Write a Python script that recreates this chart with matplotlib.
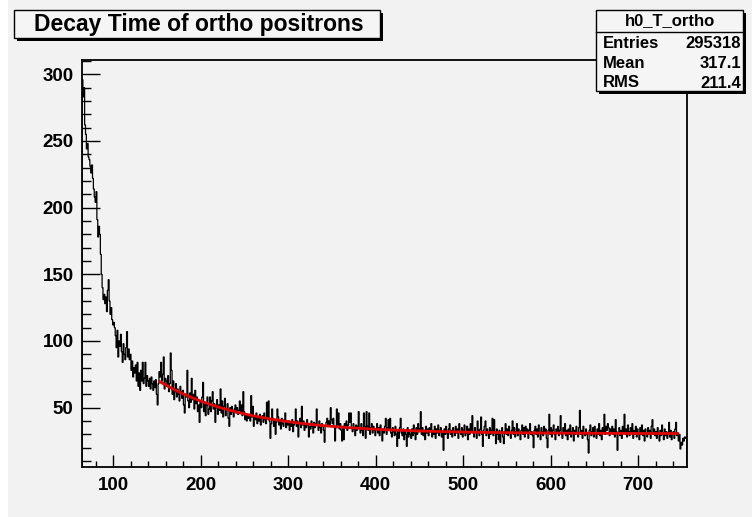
import numpy as np
import matplotlib
matplotlib.use("Agg")
import matplotlib.pyplot as plt
from matplotlib.patches import Rectangle
from matplotlib.lines import Line2D
from matplotlib.ticker import MultipleLocator, FixedLocator

# ---------------- data ----------------
bin_start = 64
bin_width = 1
counts = [
    296, 283, 290, 262, 255, 244,
    248, 238, 236, 231, 226, 232, 222, 214, 208, 204,
    212, 191, 178, 186, 180, 165, 150, 140, 131, 135,
    128, 133, 122, 138, 146, 130, 120, 125, 116, 112,
    114, 110, 104, 95, 108, 88, 100, 96, 105, 92,
    84, 98, 90, 86, 95, 107, 88, 94, 86, 90,
    78, 85, 73, 80, 76, 82, 70, 84, 66, 76,
    63, 78, 70, 84, 68, 72, 84, 66, 74, 70,
    66, 72, 64, 73, 68, 63, 70, 65, 71, 60,
    52, 68, 77, 73, 84, 70, 75, 88, 64, 72,
    70, 66, 74, 62, 68, 91, 78, 60, 70, 56,
    62, 68, 58, 64, 60, 55, 66, 62, 57, 63,
    52, 46, 60, 58, 78, 55, 50, 61, 54, 72,
    56, 60, 49, 63, 53, 58, 47, 52, 39, 55,
    50, 58, 69, 47, 54, 44, 52, 58, 45, 49,
    58, 47, 55, 62, 49, 53, 39, 50, 56, 45,
    52, 48, 64, 46, 55, 43, 51, 57, 44, 49,
    53, 42, 36, 50, 45, 51, 47, 43, 49, 52,
    46, 50, 45, 48, 55, 47, 52, 44, 62, 47,
    41, 44, 40, 45, 42, 44, 40, 59, 43, 51,
    36, 44, 41, 46, 38, 43, 40, 45, 37, 42,
    44, 39, 46, 41, 38, 54, 43, 55, 40, 27,
    38, 49, 42, 36, 41, 30, 39, 49, 43, 37,
    40, 34, 42, 38, 36, 41, 46, 35, 39, 37,
    40, 33, 38, 36, 41, 32, 37, 39, 49, 36,
    40, 28, 38, 42, 35, 51, 37, 40, 33, 38,
    35, 41, 37, 28, 36, 34, 40, 36, 31, 39,
    35, 38, 49, 37, 33, 40, 35, 31, 38, 36,
    33, 24, 36, 39, 42, 37, 40, 36, 50, 41,
    38, 42, 36, 25, 35, 49, 37, 46, 34, 38,
    33, 25, 36, 26, 38, 35, 40, 33, 37, 46,
    39, 46, 35, 32, 38, 34, 29, 37, 33, 36,
    47, 35, 31, 38, 33, 29, 46, 36, 27, 47,
    36, 33, 46, 30, 35, 38, 31, 36, 33, 29,
    34, 38, 31, 35, 29, 37, 33, 25, 34, 31,
    36, 42, 30, 35, 41, 33, 42, 31, 28, 35,
    32, 29, 36, 30, 21, 33, 27, 35, 42, 31,
    29, 34, 26, 32, 30, 21, 35, 28, 33, 30,
    27, 34, 29, 37, 31, 26, 35, 30, 38, 32,
    34, 47, 30, 35, 29, 33, 26, 36, 31, 34,
    29, 35, 32, 38, 28, 33, 30, 36, 27, 34,
    31, 37, 29, 33, 35, 28, 32, 18, 34, 30,
    36, 31, 27, 34, 38, 30, 33, 28, 35, 32,
    29, 36, 31, 34, 27, 38, 32, 30, 35, 28,
    33, 37, 29, 31, 36, 26, 34, 30, 38, 32,
    44, 31, 28, 35, 32, 27, 40, 33, 29, 34,
    43, 30, 21, 33, 36, 40, 29, 34, 31, 27,
    35, 30, 33, 42, 29, 41, 32, 23, 34, 30,
    26, 33, 24, 31, 35, 28, 23, 32, 38, 30,
    34, 29, 36, 31, 27, 33, 40, 30, 35, 28,
    32, 38, 29, 34, 31, 26, 33, 37, 30, 35,
    28, 36, 31, 34, 27, 33, 38, 30, 32, 29,
    20, 33, 36, 30, 34, 28, 37, 31, 26, 35,
    32, 29, 36, 31, 34, 27, 20, 33, 45, 30,
    35, 28, 33, 37, 30, 26, 34, 31, 36, 29,
    33, 44, 30, 27, 35, 31, 38, 29, 33, 26,
    34, 30, 37, 28, 32, 35, 25, 33, 30, 36,
    31, 28, 35, 48, 30, 33, 27, 36, 31, 29,
    34, 30, 26, 16, 33, 37, 29, 32, 35, 28,
    36, 31, 27, 34, 30, 38, 29, 33, 26, 35,
    31, 45, 30, 36, 33, 38, 35, 29, 34, 31,
    36, 30, 34, 28, 41, 32, 18, 31, 35, 29,
    33, 27, 36, 31, 45, 30, 34, 28, 37, 32,
    29, 35, 31, 38, 27, 33, 30, 36, 28, 34,
    31, 26, 35, 30, 37, 29, 33, 25, 34, 31,
    28, 35, 30, 33, 27, 36, 41, 30, 34, 29,
    32, 27, 35, 30, 25, 33, 29, 37, 31, 26,
    34, 29, 32, 27, 31, 39, 28, 33, 26, 30,
    32, 27, 34, 39, 29, 31, 25, 30, 19, 24,
    22, 27, 25, 28, 27, 28,
]

# exponential fit: A*exp(-x/tau) + C
fit_A = 180.0
fit_tau = 100.0
fit_C = 30.5
fit_range = (153, 745)

title = "Decay Time of ortho positrons"
stats_name = "h0_T_ortho"
stats_labels = ["Entries", "Mean", "RMS"]
stats_values = ["295318", "317.1", "211.4"]
x_ticks = [100, 200, 300, 400, 500, 600, 700]
y_ticks = [50, 100, 150, 200, 250, 300]
x_limits = (64, 756)
y_limits = (5.5, 310.7)

# ---------------- figure ----------------
W, H = 752, 517
BG = "#f2f2f2"
FONT = "Liberation Sans"
plt.rcParams["font.family"] = [FONT, "DejaVu Sans"]

fig = plt.figure(figsize=(W / 100, H / 100), dpi=100)
fig.patch.set_facecolor(BG)


def fx(px):
    return px / W


def fy(py):
    return 1 - py / H


# white strip at the very left (window border)
fig.add_artist(Rectangle((0, 0), fx(8), 1, transform=fig.transFigure,
                         facecolor="white", edgecolor="none", zorder=0))

ax = fig.add_axes([fx(82), fy(467), fx(687) - fx(82), fy(60) - fy(467)])
ax.set_facecolor(BG)

edges = bin_start + bin_width * np.arange(len(counts) + 1)
ax.stairs(counts, edges, color="black", linewidth=0.9)

xf = np.linspace(fit_range[0], fit_range[1], 400)
ax.plot(xf, fit_A * np.exp(-xf / fit_tau) + fit_C, color="#e00000", linewidth=2.0)

ax.set_xlim(*x_limits)
ax.set_ylim(*y_limits)

ax.xaxis.set_major_locator(FixedLocator(x_ticks))
ax.yaxis.set_major_locator(FixedLocator(y_ticks))
ax.xaxis.set_minor_locator(MultipleLocator(20))
ax.yaxis.set_minor_locator(MultipleLocator(10))

ax.tick_params(axis="x", which="major", direction="in", length=8.8, width=1.0,
               pad=7, labelsize=13.5)
ax.tick_params(axis="x", which="minor", direction="in", length=4.4, width=1.0)
ax.tick_params(axis="y", which="major", direction="in", length=13, width=1.0,
               pad=6, labelsize=13.5)
ax.tick_params(axis="y", which="minor", direction="in", length=6.5, width=1.0)
for lab in ax.get_xticklabels() + ax.get_yticklabels():
    lab.set_fontweight("bold")
for sp in ax.spines.values():
    sp.set_linewidth(1.3)
    sp.set_color("black")

# ---------------- title box ----------------
tb = (14, 10, 380, 38)  # left, top, right, bottom in px
fig.add_artist(Rectangle((fx(tb[0] + 3), fy(tb[3] + 3)), fx(tb[2] - tb[0]), fy(tb[1]) - fy(tb[3]),
                         transform=fig.transFigure, facecolor="black", edgecolor="none", zorder=5))
fig.add_artist(Rectangle((fx(tb[0]), fy(tb[3])), fx(tb[2] - tb[0]), fy(tb[1]) - fy(tb[3]),
                         transform=fig.transFigure, facecolor="#f5f5f5", edgecolor="black",
                         linewidth=1.0, zorder=6))
fig.text(fx((tb[0] + tb[2]) / 2 + 2), fy((tb[1] + tb[3]) / 2 + 0.5), title,
         ha="center", va="center", fontsize=16.5, fontweight="bold", zorder=7)

# ---------------- stats box ----------------
sb = (596, 10, 743, 91)
fig.add_artist(Rectangle((fx(sb[0] + 3), fy(sb[3] + 3)), fx(sb[2] - sb[0]), fy(sb[1]) - fy(sb[3]),
                         transform=fig.transFigure, facecolor="black", edgecolor="none", zorder=5))
fig.add_artist(Rectangle((fx(sb[0]), fy(sb[3])), fx(sb[2] - sb[0]), fy(sb[1]) - fy(sb[3]),
                         transform=fig.transFigure, facecolor="#f5f5f5", edgecolor="black",
                         linewidth=1.0, zorder=6))
fig.add_artist(Line2D([fx(sb[0]), fx(sb[2])], [fy(31.5), fy(31.5)], transform=fig.transFigure,
                      color="black", linewidth=1.0, zorder=7))
fig.text(fx((sb[0] + sb[2]) / 2), fy(21), stats_name, ha="center", va="center",
         fontsize=12, fontweight="bold", zorder=8)
row_y = [44, 63.5, 82.5]
for lab, val, yy in zip(stats_labels, stats_values, row_y):
    fig.text(fx(603), fy(yy), lab, ha="left", va="center", fontsize=12,
             fontweight="bold", zorder=8)
    fig.text(fx(741), fy(yy + (1.5 if lab == "RMS" else 0)), val, ha="right", va="center",
             fontsize=12, fontweight="bold", zorder=8)

fig.savefig("out.png", dpi=100, facecolor=fig.get_facecolor())
